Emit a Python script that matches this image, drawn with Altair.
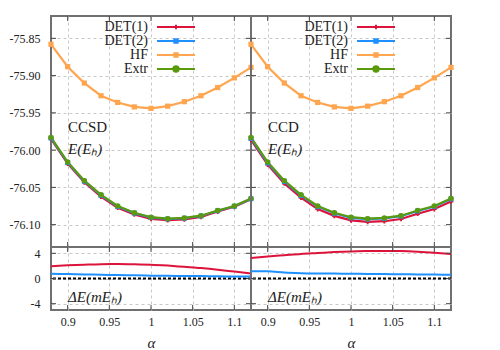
import altair as alt
import pandas as pd

# ---------------- data ----------------
alpha = [0.88, 0.90, 0.92, 0.94, 0.96, 0.98, 1.00, 1.02, 1.04, 1.06, 1.08, 1.10, 1.12]
series_names = ["DET(1)", "DET(2)", "HF", "Extr"]

hf = [-75.858, -75.888, -75.910, -75.927, -75.936, -75.942, -75.944,
      -75.941, -75.935, -75.927, -75.916, -75.903, -75.889]
extr = [-75.983, -76.016, -76.041, -76.060, -76.075, -76.084, -76.090,
        -76.092, -76.091, -76.088, -76.081, -76.075, -76.065]

ccsd_det1 = [-75.9850, -76.0181, -76.0432, -76.0623, -76.0773, -76.0863, -76.0922,
             -76.0941, -76.0929, -76.0897, -76.0824, -76.0761, -76.0658]
ccsd_det2 = [-75.9838, -76.0167, -76.0417, -76.0606, -76.0756, -76.0845, -76.0905,
             -76.0924, -76.0914, -76.0884, -76.0814, -76.0753, -76.0653]
ccd_det1 = [-75.9863, -76.0195, -76.0447, -76.0639, -76.0791, -76.0882, -76.0943,
            -76.0964, -76.0954, -76.0924, -76.0853, -76.0791, -76.0689]
ccd_det2 = [-75.9842, -76.0172, -76.0420, -76.0609, -76.0758, -76.0848, -76.0908,
            -76.0927, -76.0917, -76.0887, -76.0817, -76.0756, -76.0656]

dE_ccsd_det1 = [1.95, 2.10, 2.20, 2.28, 2.30, 2.25, 2.20, 2.05, 1.85, 1.65, 1.40, 1.10, 0.80]
dE_ccsd_det2 = [0.75, 0.70, 0.65, 0.60, 0.55, 0.50, 0.45, 0.42, 0.40, 0.38, 0.35, 0.32, 0.30]
dE_ccd_det1 = [3.26, 3.50, 3.70, 3.90, 4.05, 4.20, 4.30, 4.35, 4.38, 4.35, 4.25, 4.10, 3.90]
dE_ccd_det2 = [1.15, 1.15, 0.95, 0.85, 0.80, 0.78, 0.75, 0.73, 0.70, 0.68, 0.65, 0.62, 0.60]

y_ticks_E = [-76.10, -76.05, -76.00, -75.95, -75.90, -75.85]
y_ticks_dE = [-4, 0, 4]
x_ticks = [0.9, 0.95, 1.0, 1.05, 1.1]

colors = ["#dc143c", "#1e90ff", "#ffa54f", "#5b9a0c"]
shapes = ["cross", "square", "square", "circle"]
sizes = [22, 30, 30, 55]

# ---------------- style ----------------
FONT = "Liberation Serif"
W, HU, HL = 200, 231, 63
GRID = "#c8c8c8"
TICK = "#444"
MINUS = "replace(datum.label, '\u2212', '-')"

xscale = alt.Scale(domain=[0.88, 1.12], nice=False, zero=False)
yscale_E = alt.Scale(domain=[-76.13, -75.82], nice=False, zero=False)
yscale_dE = alt.Scale(domain=[-5, 5], nice=False, zero=False)


def x_axis(show):
    if show:
        return alt.Axis(values=x_ticks, format="~g", labelExpr=MINUS, title="α",
                        grid=True, gridDash=[3, 3], gridColor=GRID, ticks=False, tickSize=0,
                        domain=False, labelPadding=6, labelFont=FONT, labelFontSize=12,
                        labelColor="#222", labelFlush=False, titleFont=FONT,
                        titleFontSize=15, titleFontStyle="italic", titleFontWeight="normal",
                        titleColor="#222", titlePadding=8)
    return alt.Axis(values=x_ticks, grid=True, gridDash=[3, 3], gridColor=GRID,
                    labels=False, ticks=False, domain=False, title=None,
                    minExtent=0, maxExtent=0)


def y_axis(values, fmt, show):
    if show:
        return alt.Axis(values=values, format=fmt, labelExpr=MINUS, title=None,
                        grid=True, gridDash=[3, 3], gridColor=GRID, ticks=False, tickSize=0,
                        domain=False, labelPadding=11, labelFont=FONT, labelFontSize=12,
                        labelColor="#222", minExtent=42, maxExtent=42)
    return alt.Axis(values=values, grid=True, gridDash=[3, 3], gridColor=GRID,
                    labels=False, ticks=False, domain=False, title=None,
                    minExtent=0, maxExtent=0)


def inner_ticks(yvals, yscale, yax, xax, height):
    ty = pd.DataFrame({"v": yvals})
    tx = pd.DataFrame({"a": x_ticks})
    layers = [
        alt.Chart(ty).mark_rule(color=TICK, strokeWidth=1).encode(
            y=alt.Y("v:Q", scale=yscale, axis=yax), x=alt.value(0), x2=alt.value(5)),
        alt.Chart(ty).mark_rule(color=TICK, strokeWidth=1).encode(
            y=alt.Y("v:Q", scale=yscale, axis=yax), x=alt.value(W - 5), x2=alt.value(W)),
        alt.Chart(tx).mark_rule(color=TICK, strokeWidth=1).encode(
            x=alt.X("a:Q", scale=xscale, axis=xax), y=alt.value(0), y2=alt.value(5)),
        alt.Chart(tx).mark_rule(color=TICK, strokeWidth=1).encode(
            x=alt.X("a:Q", scale=xscale, axis=xax), y=alt.value(height - 5),
            y2=alt.value(height)),
    ]
    return layers


def legend_layers():
    one = pd.DataFrame({"k": [0]})
    layers = []
    for i, name in enumerate(series_names):
        yy = 10.5 + 14 * i
        layers.append(alt.Chart(one).mark_text(align="right", baseline="middle", font=FONT,
                                               fontSize=14, color="#222").encode(
            x=alt.value(97), y=alt.value(yy), text=alt.value(name)))
        layers.append(alt.Chart(one).mark_rule(strokeWidth=2.2, color=colors[i]).encode(
            x=alt.value(106), x2=alt.value(144), y=alt.value(yy + 0.5)))
        layers.append(alt.Chart(one).mark_point(filled=True, opacity=1, shape=shapes[i],
                                                size=sizes[i], color=colors[i]).encode(
            x=alt.value(125), y=alt.value(yy + 0.5)))
    return layers


def label_text(txt, x, y, italic=False):
    one = pd.DataFrame({"k": [0]})
    return alt.Chart(one).mark_text(align="left", baseline="middle", font=FONT, fontSize=15,
                                    fontStyle="italic" if italic else "normal",
                                    color="#222").encode(
        x=alt.value(x), y=alt.value(y), text=alt.value(txt))


def upper(det1, det2, method, left):
    df = pd.DataFrame({
        "alpha": alpha * 4,
        "E": det1 + det2 + hf + extr,
        "series": [s for s in series_names for _ in alpha],
    })
    yax = y_axis(y_ticks_E, ".2f", left)
    xax = x_axis(False)
    base = alt.Chart(df).encode(
        x=alt.X("alpha:Q", scale=xscale, axis=xax),
        y=alt.Y("E:Q", scale=yscale_E, axis=yax),
        color=alt.Color("series:N", scale=alt.Scale(domain=series_names, range=colors),
                        legend=None),
    )
    lines = base.mark_line(strokeWidth=2.2)
    pts = base.mark_point(filled=True, opacity=1).encode(
        shape=alt.Shape("series:N", scale=alt.Scale(domain=series_names, range=shapes),
                        legend=None),
        size=alt.Size("series:N", scale=alt.Scale(domain=series_names, range=sizes),
                      legend=None),
    )
    layers = [lines, pts] + inner_ticks(y_ticks_E, yscale_E, yax, xax, HU) + legend_layers() + [
        label_text(method, 17, 111),
        label_text("E(Eₕ)", 17, 133, italic=True),
    ]
    return alt.layer(*layers).properties(width=W, height=HU)


def lower(d1, d2, left):
    df = pd.DataFrame({
        "alpha": alpha * 2,
        "dE": d1 + d2,
        "series": [s for s in series_names[:2] for _ in alpha],
    })
    yax = y_axis(y_ticks_dE, "d", left)
    xax = x_axis(True)
    base = alt.Chart(df).encode(
        x=alt.X("alpha:Q", scale=xscale, axis=xax),
        y=alt.Y("dE:Q", scale=yscale_dE, axis=yax),
        color=alt.Color("series:N", scale=alt.Scale(domain=series_names, range=colors),
                        legend=None),
    )
    lines = base.mark_line(strokeWidth=2, interpolate="monotone")
    zero = alt.Chart(pd.DataFrame({"k": [0]})).mark_rule(
        color="black", strokeWidth=2, strokeDash=[3, 2]).encode(
        y=alt.datum(0, scale=yscale_dE, axis=yax))
    layers = [zero, lines] + inner_ticks(y_ticks_dE, yscale_dE, yax, xax, HL) + [
        label_text("ΔE(mEₕ)", 17, 50, italic=True),
    ]
    return alt.layer(*layers).properties(width=W, height=HL)


chart = alt.concat(
    upper(ccsd_det1, ccsd_det2, "CCSD", True),
    upper(ccd_det1, ccd_det2, "CCD", False),
    lower(dE_ccsd_det1, dE_ccsd_det2, True),
    lower(dE_ccd_det1, dE_ccd_det2, False),
    columns=2, spacing=0, bounds="flush",
).properties(
    padding={"left": 0, "top": 6, "right": 5, "bottom": 5},
    background="white",
).configure_view(stroke="#707070", strokeWidth=2)

chart.save("out.html", embed_options={"renderer": "svg", "actions": False})
